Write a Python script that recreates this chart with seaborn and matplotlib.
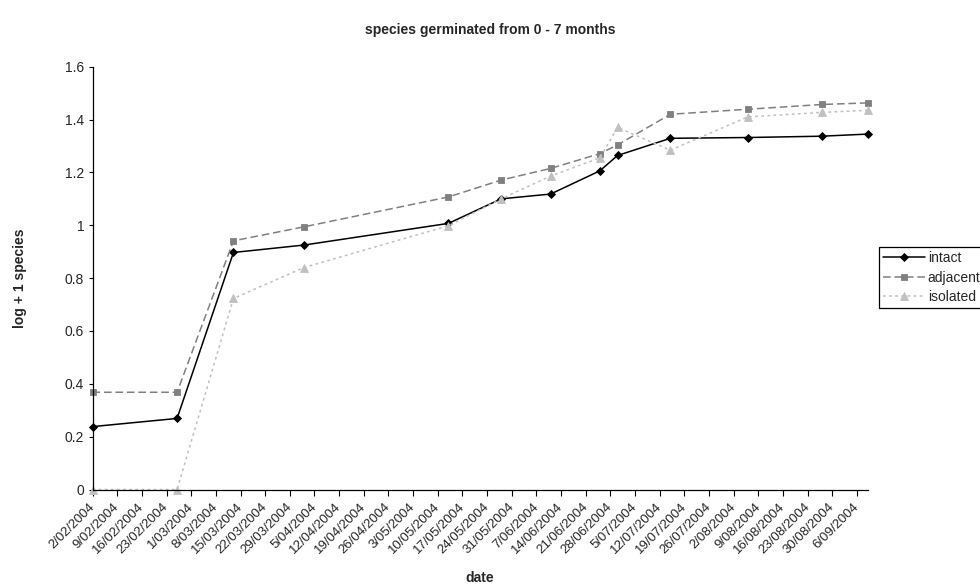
import matplotlib
matplotlib.use("Agg")
import matplotlib.pyplot as plt
import matplotlib.dates as mdates
from matplotlib.ticker import FuncFormatter, MultipleLocator
import pandas as pd
import seaborn as sns

# Census dates and log(+1) species counts per treatment
dates = ["2004-02-02", "2004-02-26", "2004-03-13", "2004-04-02", "2004-05-13",
         "2004-05-28", "2004-06-11", "2004-06-25", "2004-06-30", "2004-07-15",
         "2004-08-06", "2004-08-27", "2004-09-09"]
intact = [0.238, 0.269, 0.897, 0.925, 1.007, 1.100, 1.118, 1.206, 1.264,
          1.329, 1.332, 1.337, 1.345]
adjacent = [0.368, 0.368, 0.941, 0.994, 1.107, 1.171, 1.215, 1.271, 1.304,
            1.420, 1.439, 1.457, 1.463]
isolated = [0.0, 0.0, 0.723, 0.840, 0.998, 1.100, 1.186, 1.255, 1.370,
            1.284, 1.410, 1.427, 1.435]

series_names = ["intact", "adjacent", "isolated"]
series_values = [intact, adjacent, isolated]
colors = ["#000000", "#808080", "#c0c0c0"]
markers = ["D", "s", "^"]
marker_sizes = [4.2, 5.0, 5.6]
dash_styles = ["-", (0, (5, 2.5)), (0, (1.8, 2.2))]

tick_start, tick_end = "2004-02-02", "2004-09-06"

sns.set_style("ticks")
plt.rcParams["font.family"] = ["Liberation Sans", "DejaVu Sans"]

fig = plt.figure(figsize=(9.8, 5.84), dpi=100)
ax = fig.add_axes([0.0944, 0.1618, 0.791, 0.7240])

for name, vals, c, m, ms, ls in zip(series_names, series_values, colors,
                                    markers, marker_sizes, dash_styles):
    df = pd.DataFrame({"date": pd.to_datetime(dates), "value": vals})
    sns.lineplot(data=df, x="date", y="value", ax=ax, color=c, marker=m,
                 markersize=ms, markeredgecolor=c, markeredgewidth=0.6,
                 linewidth=1.1, linestyle=ls, label=name, clip_on=False)

# Axes limits and ticks
x0 = mdates.date2num(pd.Timestamp(dates[0]))
x1 = mdates.date2num(pd.Timestamp(dates[-1]))
ax.set_xlim(x0, x1)
ax.set_ylim(0, 1.6)
ax.yaxis.set_major_locator(MultipleLocator(0.2))
ax.yaxis.set_major_formatter(FuncFormatter(lambda v, p: f"{v:.1f}".rstrip("0").rstrip(".") if v else "0"))

week_ticks = pd.date_range(tick_start, tick_end, freq="7D")
ax.set_xticks(mdates.date2num(week_ticks))
ax.set_xticklabels([f"{d.day}/{d:%m/%Y}" for d in week_ticks])

ax.tick_params(axis="both", labelsize=10, length=4, width=0.8, color="black",
               direction="out", pad=3)
ax.tick_params(axis="y", length=3)
ax.tick_params(axis="x", pad=7, labelsize=9.5)
for lbl in ax.get_xticklabels():
    lbl.set_rotation(45)
    lbl.set_ha("right")
    lbl.set_va("center")
    lbl.set_rotation_mode("anchor")

for side in ["top", "right"]:
    ax.spines[side].set_visible(False)
for side in ["left", "bottom"]:
    ax.spines[side].set_color("black")
    ax.spines[side].set_linewidth(0.9)

ax.set_xlabel("date", fontsize=10, fontweight="bold", labelpad=11)
ax.set_ylabel("log + 1 species", fontsize=10, fontweight="bold", labelpad=27)
fig.suptitle("species germinated from 0 - 7 months", fontsize=10,
             fontweight="bold", x=0.5, y=0.96)

leg = ax.legend(loc="upper left", bbox_to_anchor=(0.897, 0.577),
                bbox_transform=fig.transFigure, fontsize=10, frameon=True,
                fancybox=False, edgecolor="black", framealpha=1,
                handlelength=3.0, handletextpad=0.2, borderpad=0.3,
                labelspacing=0.4, borderaxespad=0)
leg.get_frame().set_linewidth(0.9)

fig.savefig("out.png", dpi=100)
